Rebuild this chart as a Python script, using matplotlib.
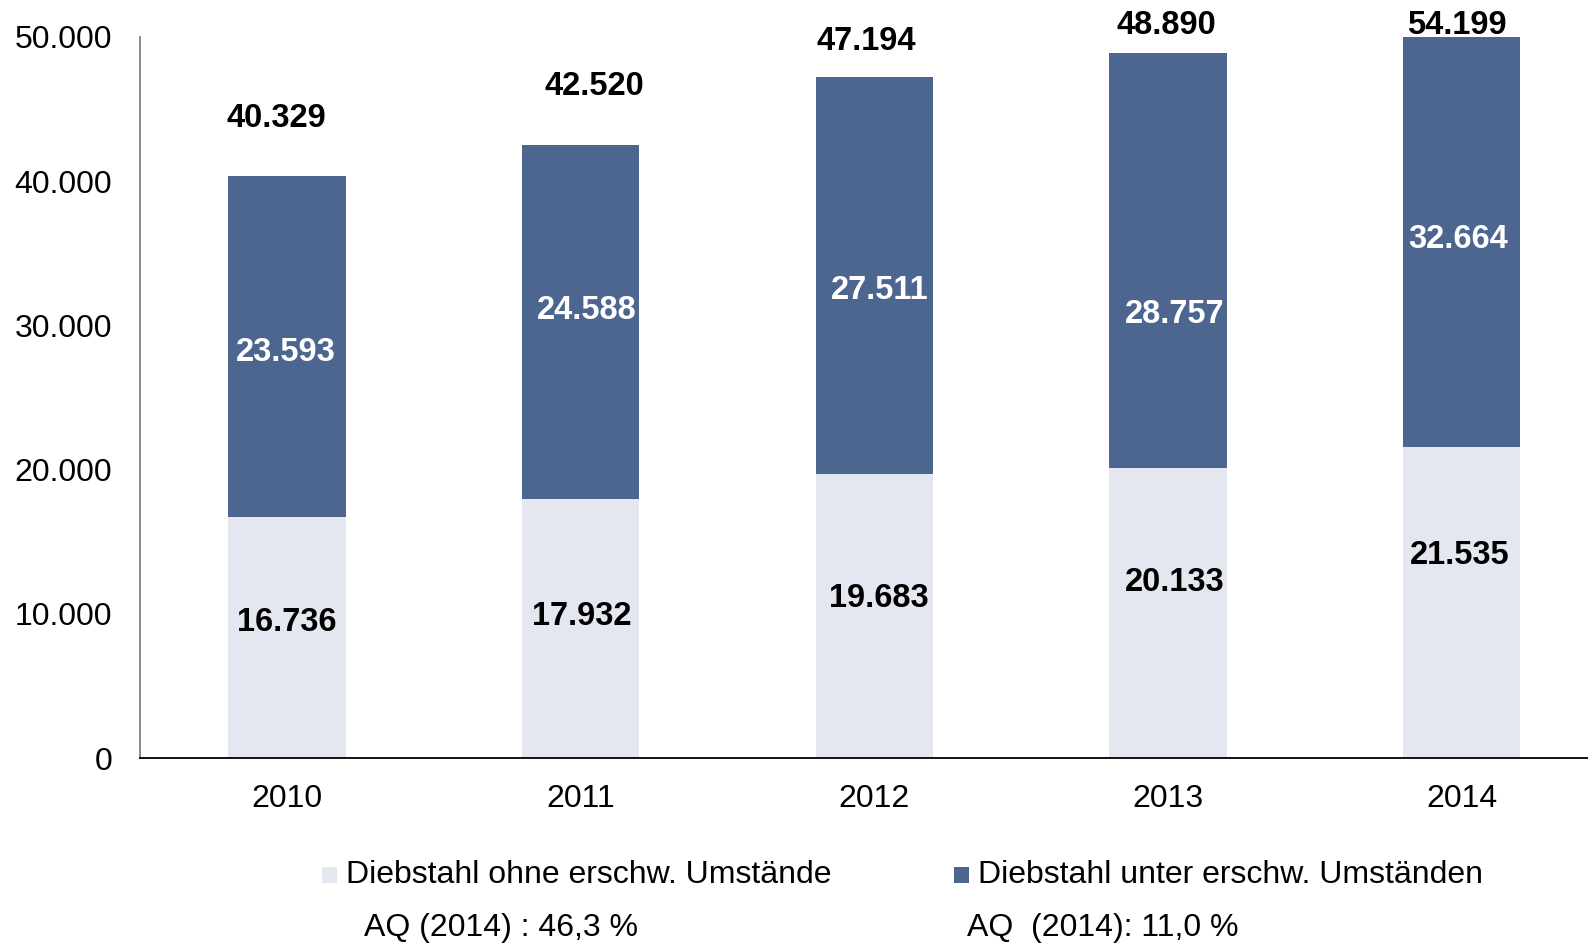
import matplotlib
matplotlib.use("Agg")
import matplotlib.pyplot as plt
from matplotlib.patches import Patch, Rectangle

years = ["2010", "2011", "2012", "2013", "2014"]
ohne = [16736, 17932, 19683, 20133, 21535]
unter = [23593, 24588, 27511, 28757, 32664]
totals = [40329, 42520, 47194, 48890, 54199]
ohne_labels = ["16.736", "17.932", "19.683", "20.133", "21.535"]
unter_labels = ["23.593", "24.588", "27.511", "28.757", "32.664"]
total_labels = ["40.329", "42.520", "47.194", "48.890", "54.199"]
yticks = [0, 10000, 20000, 30000, 40000, 50000]
ytick_labels = ["0", "10.000", "20.000", "30.000", "40.000", "50.000"]
legend_names = ["Diebstahl ohne erschw. Umstände", "Diebstahl unter erschw. Umständen"]
aq_texts = ["AQ (2014) : 46,3 %", "AQ  (2014): 11,0 %"]

# label offsets in pixels (dx, dy) - layout only
tot_off = [(-10, 58), (14, 58), (-8, 36), (-2, 28), (-5, 12)]
unt_off = [(-1, -6), (6, 12), (5, -15), (7, -54), (-4, 3)]
ohn_off = [(0, 15), (1, 12), (5, 18), (7, 30), (-2, 47)]

LIGHT = "#E4E7F0"
DARK = "#4C6690"
YMAX = 50000

plt.rcParams['font.family'] = ['Liberation Sans', 'DejaVu Sans']
fig = plt.figure(figsize=(15.88, 9.43), dpi=100)
ax = fig.add_axes([140/1588, (943-758)/943, (1588-140)/1588, (758-37)/943])

x = list(range(len(years)))
ax.bar(x, ohne, width=0.4, color=LIGHT, zorder=2)
ax.bar(x, unter, width=0.4, bottom=ohne, color=DARK, zorder=2)
ax.set_ylim(0, YMAX)
ax.set_xlim(-0.5, 4.43)

ax.set_yticks(yticks)
ax.set_yticklabels(ytick_labels)
ax.set_xticks(x)
ax.set_xticklabels(years)
ax.tick_params(axis='both', length=0, labelsize=23, colors='black')
ax.tick_params(axis='y', pad=20)
ax.tick_params(axis='x', pad=19)
for s in ['top', 'right']:
    ax.spines[s].set_visible(False)
ax.spines['left'].set_color('#808080')
ax.spines['left'].set_linewidth(1.3)
ax.spines['bottom'].set_color('black')
ax.spines['bottom'].set_linewidth(1.3)

def px(v):
    return v * 0.72

FS = 23.5
for i in x:
    top = min(totals[i], YMAX)
    dx, dy = tot_off[i]
    ax.annotate(total_labels[i], (i, top), xytext=(px(dx), px(dy)), textcoords='offset points',
                ha='center', va='center', fontsize=FS, fontweight='bold', color='black',
                annotation_clip=False)
    mid_u = (ohne[i] + min(ohne[i] + unter[i], YMAX)) / 2
    dx, dy = unt_off[i]
    ax.annotate(unter_labels[i], (i, mid_u), xytext=(px(dx), px(dy)), textcoords='offset points',
                ha='center', va='center', fontsize=FS, fontweight='bold', color='white')
    mid_o = ohne[i] / 2
    dx, dy = ohn_off[i]
    ax.annotate(ohne_labels[i], (i, mid_o), xytext=(px(dx), px(dy)), textcoords='offset points',
                ha='center', va='center', fontsize=FS, fontweight='bold', color='black')

# legend
handles = [Patch(facecolor=LIGHT, edgecolor='none'), Patch(facecolor=DARK, edgecolor='none')]
leg_pos = [(322/1588, 1 - 875/943), (954/1588, 1 - 875/943)]
for h, name, (lx, ly) in zip(handles, legend_names, leg_pos):
    fig.patches.append(Rectangle((lx, ly - 8/943), 15/1588, 16/943,
                                 transform=fig.transFigure,
                                 facecolor=h.get_facecolor(), edgecolor='none'))
    fig.text(lx + 24/1588, ly, name, ha='left', va='center', fontsize=23, color='black')

aq_pos = [(364/1588, 1 - 928/943), (967/1588, 1 - 928/943)]
for t, (ax_, ay) in zip(aq_texts, aq_pos):
    fig.text(ax_, ay, t, ha='left', va='center', fontsize=23, color='black')

fig.savefig("out.png", dpi=100)
